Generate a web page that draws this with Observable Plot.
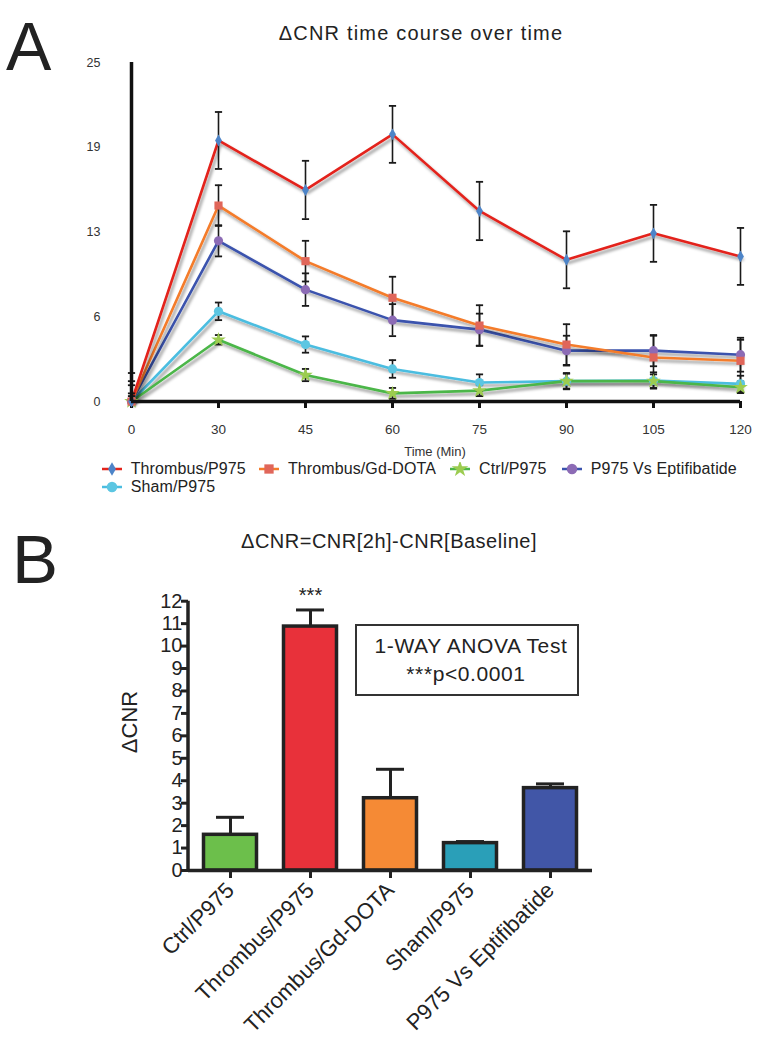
<!DOCTYPE html>
<html><head><meta charset="utf-8">
<script src="https://cdn.jsdelivr.net/npm/d3@7"></script>
<script src="https://cdn.jsdelivr.net/npm/@observablehq/plot@0.6"></script>
<style>
body{margin:0;background:#fff;font-family:"Liberation Sans",Arial,sans-serif;color:#222;}
#wrap{position:relative;width:768px;height:1050px;overflow:hidden;}
.abs{position:absolute;white-space:nowrap;line-height:1;}
#chartA g[aria-label="x-axis tick label"]{font-size:13.5px;fill:#333;}
#chartA g[aria-label="y-axis tick label"]{font-size:12.5px;fill:#333;}
#chartB g[aria-label="y-axis tick label"]{font-size:20px;fill:#222;}
#chartB g[aria-label="x-axis tick label"]{font-size:22px;fill:#222;}
</style></head><body><div id="wrap"></div>
<script>
// ---------- Data: panel A ----------
const times = [0, 30, 45, 60, 75, 90, 105, 120];
const yTicksA = [0, 6.25, 12.5, 18.75, 25];
const seriesNames = ["Thrombus/P975", "Thrombus/Gd-DOTA", "Ctrl/P975", "P975 Vs Eptifibatide", "Sham/P975"];
const thrombusP975     = [0, 19.25, 15.6, 19.7, 14.05, 10.45, 12.4, 10.7];
const thrombusP975Err  = [2.1, 2.1, 2.15, 2.1, 2.15, 2.1, 2.1, 2.1];
const thrombusGdDota   = [0, 14.45, 10.35, 7.65, 5.6, 4.2, 3.25, 3.0];
const thrombusGdDotaErr= [1.5, 1.5, 1.5, 1.55, 1.5, 1.5, 1.6, 1.55];
const ctrlP975         = [0, 4.55, 1.95, 0.6, 0.8, 1.5, 1.5, 1.05];
const ctrlP975Err      = [0.4, 0.35, 0.45, 0.4, 0.4, 0.55, 0.5, 0.43];
const eptifibatide     = [0, 11.85, 8.25, 6.0, 5.3, 3.75, 3.75, 3.45];
const eptifibatideErr  = [1.2, 1.15, 1.2, 1.18, 1.18, 1.1, 1.15, 1.25];
const shamP975         = [0, 6.65, 4.2, 2.4, 1.4, 1.5, 1.55, 1.3];
const shamP975Err      = [0.6, 0.65, 0.6, 0.65, 0.6, 0.6, 0.6, 0.6];

// ---------- Data: panel B ----------
const barGroups = ["Ctrl/P975", "Thrombus/P975", "Thrombus/Gd-DOTA", "Sham/P975", "P975 Vs Eptifibatide"];
const barValues = [1.59, 10.87, 3.22, 1.22, 3.67];
const barErrors = [0.78, 0.74, 1.29, 0.07, 0.19];
const barSignificance = ["", "***", "", "", ""];
const yTicksB = [0,1,2,3,4,5,6,7,8,9,10,11,12];

// ---------- Styles ----------
const seriesStyle = {
  "Thrombus/P975":        {line:"#e3241b", marker:"#4d84c8", symbol:"diamond", r:3.6},
  "Thrombus/Gd-DOTA":     {line:"#f47b2a", marker:"#e0665a", symbol:"square",  r:4.6},
  "Ctrl/P975":            {line:"#4bb648", marker:"#9ccc50", symbol:"star",    r:4.6},
  "P975 Vs Eptifibatide": {line:"#3a52ad", marker:"#8c6bb5", symbol:"circle",  r:4.6},
  "Sham/P975":            {line:"#4bbde0", marker:"#5cc6e2", symbol:"circle",  r:4.6}
};
const barColors = ["#6cbf4b", "#e8313a", "#f58a35", "#2a9fb8", "#4156a7"];

const seriesValues = {
  "Thrombus/P975": [thrombusP975, thrombusP975Err],
  "Thrombus/Gd-DOTA": [thrombusGdDota, thrombusGdDotaErr],
  "Ctrl/P975": [ctrlP975, ctrlP975Err],
  "P975 Vs Eptifibatide": [eptifibatide, eptifibatideErr],
  "Sham/P975": [shamP975, shamP975Err]
};
const rows = [];
for (const name of seriesNames) {
  const [vals, errs] = seriesValues[name];
  vals.forEach((v, i) => rows.push({series:name, t:times[i], v, e:errs[i]}));
}
const lowerErr = d => Math.max(0, d.v - d.e); // error bars clipped at the axis, as in the original
const drawOrder = ["Sham/P975", "Ctrl/P975", "P975 Vs Eptifibatide", "Thrombus/Gd-DOTA", "Thrombus/P975"];
const hline = {draw(ctx, size){ const r = Math.sqrt(size/Math.PI); ctx.moveTo(-r,0); ctx.lineTo(r,0); }};

const wrap = document.getElementById("wrap");
function addText(txt, left, top, size, extra){
  const d = document.createElement("div");
  d.className = "abs"; d.textContent = txt;
  d.style.left = left + "px"; d.style.top = top + "px"; d.style.fontSize = size + "px";
  if (extra) Object.assign(d.style, extra);
  wrap.appendChild(d); return d;
}

// ---------- Panel A ----------
addText("A", 6, 70 - 0.847*68, 68);
addText("\u0394CNR time course over time", 421, 40 - 0.847*20, 20, {transform:"translateX(-50%)", letterSpacing:"1.2px"});

const chartA = Plot.plot({
  width: 768, height: 411,
  marginLeft: 131, marginRight: 28, marginTop: 12, marginBottom: 60,
  style: {fontFamily: "'Liberation Sans', Arial, sans-serif", background: "transparent", overflow: "visible"},
  x: {type: "point", domain: times, padding: 0},
  y: {domain: [0, 25]},
  marks: [
    Plot.axisY({ticks: yTicksA, tickFormat: d => Math.round(d), tickSize: 0, tickPadding: 31, fontSize: 12.5, label: null}),
    Plot.axisX({tickSize: 7, tickPadding: 16, strokeWidth: 3, stroke: "#111", fontSize: 13.5, label: null}),
    ...drawOrder.map(name => Plot.line(rows.filter(d => d.series === name), {x: "t", y: "v", stroke: seriesStyle[name].line, strokeWidth: 2.6})),
    Plot.ruleX(rows, {x: "t", y1: lowerErr, y2: d => d.v + d.e, stroke: "#1a1a1a", strokeWidth: 1.6}),
    Plot.dot(rows, {x: "t", y: d => d.v + d.e, symbol: hline, r: 3.6, stroke: "#1a1a1a", strokeWidth: 1.8}),
    Plot.dot(rows, {x: "t", y: lowerErr, symbol: hline, r: 3.6, stroke: "#1a1a1a", strokeWidth: 1.8}),
    ...drawOrder.map(name => Plot.dot(rows.filter(d => d.series === name), {x: "t", y: "v", symbol: seriesStyle[name].symbol, r: seriesStyle[name].r, fill: seriesStyle[name].marker, stroke: "none"})),
    Plot.ruleY([0], {stroke: "#111", strokeWidth: 3.5}),
    Plot.ruleX([0], {y1: 0, y2: 25, stroke: "#111", strokeWidth: 3.5})
  ]
});
const holderA = document.createElement("div");
holderA.id = "chartA"; holderA.className = "abs"; holderA.style.left = "0px"; holderA.style.top = "50px";
holderA.appendChild(chartA); wrap.appendChild(holderA);
{
  const s = d3.select(chartA);
  const f = s.insert("defs", ":first-child").append("filter").attr("id", "shA")
    .attr("filterUnits", "userSpaceOnUse").attr("x", 0).attr("y", 0).attr("width", 768).attr("height", 411);
  f.append("feDropShadow").attr("dx", 2).attr("dy", 3).attr("stdDeviation", 1.8)
    .attr("flood-color", "#000").attr("flood-opacity", 0.4);
  s.selectAll('g[aria-label="line"]').attr("filter", "url(#shA)");
}
addText("Time (Min)", 435, 456 - 0.847*13, 13, {transform:"translateX(-50%)", color:"#333"});

// legend A
const legendPos = [[111.7, 469], [269, 469], [460, 469], [571.7, 469], [111.7, 487]];
seriesNames.forEach((name, i) => {
  const [cx, cy] = legendPos[i];
  const st = seriesStyle[name];
  const svg = d3.create("svg").attr("width", 26).attr("height", 14)
    .style("position", "absolute").style("left", (cx - 13) + "px").style("top", (cy - 7) + "px");
  svg.append("line").attr("x1", 3).attr("x2", 23).attr("y1", 7).attr("y2", 7).attr("stroke", st.line).attr("stroke-width", 2.5);
  const symMap = {diamond: d3.symbolDiamond, square: d3.symbolSquare, star: d3.symbolStar, circle: d3.symbolCircle};
  svg.append("path").attr("transform", "translate(13,7)").attr("fill", st.marker)
    .attr("d", d3.symbol(symMap[st.symbol], st.r * st.r * Math.PI * 1.3)());
  wrap.appendChild(svg.node());
  addText(name, cx + 19, cy + 5.5 - 0.847*16, 16, {letterSpacing:"0.1px"});
});

// ---------- Panel B ----------
addText("B", 12, 583 - 0.847*69, 69);
addText("\u0394CNR=CNR[2h]-CNR[Baseline]", 389, 548 - 0.847*20, 20, {transform:"translateX(-50%)", letterSpacing:"0.5px"});

const bars = barGroups.map((g, i) => ({g, v: barValues[i], e: barErrors[i], color: barColors[i], sig: barSignificance[i]}));
const chartB = Plot.plot({
  width: 768, height: 470,
  marginLeft: 188, marginRight: 176, marginTop: 25.7, marginBottom: 175,
  style: {fontFamily: "'Liberation Sans', Arial, sans-serif", background: "transparent", overflow: "visible"},
  x: {domain: barGroups, paddingInner: 0.3, paddingOuter: 0.15},
  y: {domain: [0, 12]},
  color: {type: "identity"},
  marks: [
    Plot.ruleX(bars, {x: "g", y1: "v", y2: d => d.v + d.e, stroke: "#222", strokeWidth: 3}),
    Plot.tickY(bars, {x: "g", y: d => d.v + d.e, insetLeft: 14, insetRight: 14, stroke: "#222", strokeWidth: 3}),
    Plot.barY(bars, {x: "g", y: "v", fill: "color", stroke: "#222", strokeWidth: 3.5, insetLeft: 1.5, insetRight: 1.5}),
    Plot.text(bars.filter(d => d.sig), {x: "g", text: "sig", frameAnchor: "top", dy: -13, fontSize: 20, fill: "#222"}),
    Plot.axisY({ticks: yTicksB, tickSize: 7, tickPadding: -1, strokeWidth: 3, stroke: "#222", fontSize: 20, label: null}),
    Plot.axisX({tickSize: 8, tickPadding: 8, tickRotate: -45, strokeWidth: 3, stroke: "#222", fontSize: 22, label: null}),
    Plot.ruleY([0], {stroke: "#222", strokeWidth: 3.5})
  ]
});
const holderB = document.createElement("div");
holderB.id = "chartB"; holderB.className = "abs"; holderB.style.left = "0px"; holderB.style.top = "575px";
holderB.appendChild(chartB); wrap.appendChild(holderB);
{
  const ys = chartB.scale("y");
  d3.select(chartB).append("line").attr("x1", 188).attr("x2", 188)
    .attr("y1", ys.apply(0)).attr("y2", ys.apply(12)).attr("stroke", "#222").attr("stroke-width", 3.5);
}
addText("\u0394CNR", 130, 722, 22, {transform:"translate(-50%,-50%) rotate(-90deg)"});

// annotation box
const box = document.createElement("div");
box.className = "abs";
Object.assign(box.style, {left:"355px", top:"624px", width:"220px", height:"68px", border:"2.5px solid #333"});
wrap.appendChild(box);
addText("1-WAY ANOVA Test", 471, 653 - 0.847*21, 21, {transform:"translateX(-50%)", letterSpacing:"0.6px"});
addText("***p<0.0001", 466, 681 - 0.847*21, 21, {transform:"translateX(-50%)", letterSpacing:"0.6px"});
</script></body></html>
